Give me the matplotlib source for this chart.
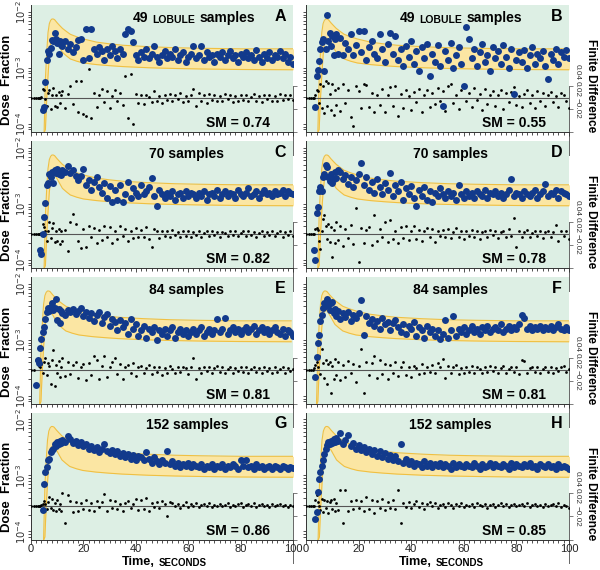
import numpy as np
import matplotlib
matplotlib.use("Agg")
import matplotlib.pyplot as plt
from matplotlib import transforms
from matplotlib.ticker import MultipleLocator, FixedLocator, NullLocator

plt.rcParams['font.family'] = ['Liberation Sans', 'DejaVu Sans']

# sampling times (s): sparse at the start, half-second during the rise, 1 s after
t_fd = np.concatenate([[0, 1], np.arange(2, 12, 0.5), np.arange(12, 101)])
t_dose = t_fd[2:]

letters = ['A', 'B', 'C', 'D', 'E', 'F', 'G', 'H']
n_samples = ['49', '49', '70', '70', '84', '84', '152', '152']
lobule = [True, True, False, False, False, False, False, False]
sm_values = ['0.74', '0.55', '0.82', '0.78', '0.81', '0.81', '0.86', '0.85']
band_onset = [5.0, 4.5, 5.0, 4.5, 3.3, 4.0, 4.8, 4.6]

# model band (dose fraction x 1e-4) vs time after onset
band_t = [0, 0.5, 1, 1.5, 2, 2.5, 3, 3.5, 4, 5, 6, 7, 8.5, 10, 12.5, 15, 20, 25, 30, 40, 50, 60, 75, 96]
band_hi = [0.7, 6.4, 19, 43, 62, 71, 75, 75, 73, 64, 57, 51, 45, 40, 36, 33, 29, 27, 25.5, 24, 23, 22.5, 22, 22]
band_lo = [0.7, 0.8, 2.8, 7.3, 16.6, 27, 32, 34, 33, 28, 23, 19, 16.5, 14.5, 13.2, 12.3, 11.5, 11, 10.6, 10.1, 9.8, 9.6, 9.4, 9.3]

# dose fraction x 1e-4 at t_dose
dose_A = [None, None, None, None, None, 1.8, 2.0, 5.7, 14, 20, 18, 23, 32, 30, 43, 33, 28, 18, 30, 26,
          25, 30, 22, 27, 19, 24, 31, 33, 14, 50, 15, 50, 22, 18, 24, 20, 14, 22, 17, 25,
          20, 15, 22, 18, 40, 50, 46, 29, 17, 14, 19, 16, 22, 15, 18, 25, 16, 13, 17, 20,
          15, 18, 16, 22, 14, 17, 19, 13, 16, 18, 25, 15, 17, 25, 14, 19, 16, 17, 13, 18,
          16, 19, 14, 17, 20, 15, 17, 13, 18, 16, 19, 15, 17, 14, 21, 16, 13, 18, 15, 19,
          14, 17, 16, 20, 15, 18, 13, 16, 12]
dose_B = [None, None, None, 2.0, 7.3, 9.3, 13.5, 22, 29, 33, 9.0, 22, 88, 30, 43, 25, 38, 17, 33, 40,
          18, 35, 17, 28, 22, 40, 17, 26, 46, 19, 46, 14, 24, 30, 18, 15, 40, 22, 13, 27,
          43, 18, 38, 14, 22, 11, 25, 16, 30, 12, 20, 9, 24, 15, 27, 7.3, 18, 13, 26, 11,
          2.1, 20, 14, 28, 10, 17, 24, 12, 4.8, 53, 33, 15, 22, 11, 19, 27, 13, 17, 9, 24,
          15, 20, 12, 26, 16, 10, 22, 3.5, 14, 19, 13, 21, 10, 17, 24, 12, 18, 15, 20, 11,
          6.3, 18, 14, 22, 12, 19, 16, 21, 15]
dose_C = [None, None, None, 1.5, 1.3, 2.9, 5.9, 10.3, 22, 24, 34, 30, 37, 24, 40, 36, 42, 35, 38, 33,
          40, 37, 48, 36, 40, 31, 27, 31, 42, 22, 27, 18, 25, 30, 20, 16, 24, 13, 21, 11,
          18, 12, 22, 11, 15, 25, 13, 19, 16, 14, 22, 15, 17, 20, 29, 14, 9.3, 18, 15, 13,
          16, 14, 17, 12, 15, 16, 13, 17, 14, 16, 15, 13, 16, 14, 17, 12, 15, 16, 14, 18,
          13, 15, 17, 14, 16, 15, 13, 18, 15, 14, 16, 19, 14, 15, 17, 13, 16, 18, 15, 16,
          14, 17, 15, 16, 18, 14, 17, 16, 15]
dose_D = [None, None, 1.5, 1.0, 6.8, 8.7, 17, 20, 17, 30, 34, 50, 45, 30, 26, 34, 24, 28, 38, 29,
          40, 37, 28, 33, 23, 30, 20, 27, 34, 53, 22, 30, 18, 25, 16, 28, 20, 15, 24, 18,
          36, 14, 22, 17, 25, 12, 19, 15, 21, 13, 9.3, 18, 14, 20, 12, 17, 11, 16, 14, 19,
          15, 13, 17, 14, 16, 12, 22, 15, 13, 17, 14, 16, 13, 17, 15, 14, 18, 13, 16, 15,
          17, 14, 16, 13, 15, 18, 28, 14, 16, 15, 13, 17, 15, 14, 16, 18, 13, 15, 17, 23,
          14, 16, 15, 18, 13, 17, 16, 15, 14]
dose_E = [1.6, 4.4, 3.9, 7.1, 10.3, 14, 17, 24, 32, 37, 33, 39, 46, 35, 38, 55, 23, 36, 20, 33,
          30, 28, 34, 31, 36, 29, 33, 37, 27, 32, 25, 30, 22, 28, 31, 20, 26, 29, 18, 24,
          21, 15, 23, 17, 20, 13, 24, 16, 19, 12, 15, 18, 11, 16, 14, 17, 10, 15, 13, 16,
          12, 15, 17, 11, 14, 16, 13, 15, 12, 14, 16, 13, 15, 17, 12, 14, 16, 13, 15, 24,
          14, 16, 25, 13, 15, 17, 14, 16, 13, 15, 17, 14, 16, 18, 13, 15, 17, 14, 16, 13,
          15, 17, 14, 13, 16, 12, 15, 14, 12]
dose_F = [None, None, None, 2.2, 5.0, 8.7, 12.3, 22, 28, 38, 45, 40, 53, 42, 34, 45, 48, 30, 36, 27,
          33, 24, 30, 26, 32, 22, 28, 25, 30, 52, 12.3, 27, 20, 24, 18, 22, 16, 25, 19, 21,
          15, 20, 23, 17, 14, 19, 13, 18, 16, 21, 12, 17, 15, 11, 18, 14, 16, 12, 15, 10.5,
          13, 23, 11, 15, 27, 12, 16, 14, 17, 13, 15, 18, 14, 16, 13, 17, 15, 18, 14, 16,
          17, 15, 19, 14, 16, 18, 15, 17, 16, 19, 28, 25, 16, 18, 15, 17, 16, 18, 15, 17,
          16, 18, 15, 17, 19, 16, 15, 17, 15]
dose_G = [None, None, None, None, None, 2.4, 7.1, 11.5, 14, 19, 20, 26, 29, 30, 37, 34, 40, 36, 42, 38,
          43, 39, 51, 45, 38, 41, 35, 39, 33, 36, 30, 34, 28, 32, 26, 30, 36, 27, 25, 29,
          24, 27, 22, 25, 21, 24, 20, 23, 19, 22, 21, 19, 26, 20, 17, 21, 18, 16, 19, 17,
          27, 16, 18, 15, 17, 14, 16, 15, 17, 14, 16, 15, 14, 16, 13, 15, 14, 16, 13, 15,
          14, 16, 13, 15, 14, 16, 15, 13, 19, 15, 19, 14, 15, 13, 16, 14, 15, 13, 14, 15,
          13, 15, 14, 13, 15, 14, 13, 14, 13.6]
dose_H = [None, None, None, 1.7, 2.2, 5.1, 8.7, 11.5, 14.7, 18.6, 24.5, 30, 35, 40, 37, 42, 38, 44, 40, 46,
          41, 57, 36, 43, 53, 33, 38, 30, 35, 28, 32, 26, 30, 24, 28, 22, 27, 21, 25, 20,
          23, 19, 22, 18, 36, 17, 20, 16, 18, 15, 17, 16, 14, 18, 15, 17, 14, 16, 15, 17,
          14, 16, 15, 13, 17, 14, 16, 15, 14, 16, 15, 14, 17, 15, 13, 16, 14, 15, 17, 14,
          16, 15, 14, 16, 15, 13, 17, 14, 16, 15, 14, 16, 15, 17, 14, 15, 13, 16, 15, 14,
          16, 14, 15, 13, 16, 14, 15, 14, 12.8]

# finite difference x 1e-3 at t_fd
fd_A = [0, 0, 0, 0, 0, 0, 1, 11, 9, -1, -9, 6, 10, -13, 4, 12, -9, 3, -11, 7, -6, 3,
        8, -12, 5, 14, -7, 20, -17, 20, -19, -21, 34, -24, 6, -10, 3, 11, -5, 8, -12, 2,
        9, -4, 6, -8, 26, -23, 28, -30, 5, -6, 3, -7, 4, 1, -5, 8, -3, 2, -6, 4,
        -2, 5, -4, 3, -1, 6, -5, 2, -3, 4, 11, -9, 6, -4, 3, -6, 5, -2, 4, -3,
        2, -4, 5, -1, 3, -5, 2, -3, 4, -2, 3, -4, 1, 5, -3, 2, -5, 3, -1, 4,
        -3, 2, -4, 5, -2, 3, -1, 4, -2]
fd_B = [0, 0, 0, 0, 0, 3, 10, 8, -6, 16, -12, 14, -18, 20, -9, 18, 5, -14, 16, -20, 9, -8,
        12, -15, 17, -6, 10, -22, -33, 14, 8, -12, 16, 15, -10, 6, -16, 4, -8, 11, -17, 3,
        13, -9, 14, -21, 5, -12, 9, 2, -14, 7, -5, 11, -16, 4, 10, -10, 6, -7, 12, -3,
        8, -15, 14, 16, -6, 3, -13, 9, 15, -4, 6, -11, 12, -2, 5, -14, 11, -7, 3, 8,
        -9, 4, 10, -13, 6, -5, 7, 13, -8, 2, -11, 5, 9, -6, 3, -12, 8, -3, 6, -9,
        4, 7, -5, 2, -10, 6, 3, -4, -12]
fd_C = [0, 0, 0, 0, 0, 0, 1, 12, 8, 4, -8, 3, 14, -5, 7, 13, -9, 4, -8, 6, -12, 3,
        -8, 5, -20, 14, 24, 12, -8, -16, 6, -15, 9, -4, 7, -10, 5, -7, 10, -3, 8, -11,
        4, -6, 9, -2, 6, -8, 3, -5, 7, -3, 5, -4, 8, -6, -15, 6, 3, -5, 4, -2,
        3, -3, 5, -1, 2, -4, 4, -2, 3, -3, 2, -1, 4, -3, 1, 3, -2, 4, -1, 2,
        -3, 2, 1, -2, 3, -1, 4, -2, 1, 3, -2, 4, -1, 2, -3, 1, 3, -2, 2, -1,
        3, -2, 1, 4, -3, 2, -1, 3, -2]
fd_D = [0, 0, 0, 0, 0, 6, 7, 5, -8, -18, 4, 18, 22, 10, -6, 12, -9, 8, -27, 5, -11, 14,
        -7, 9, -14, 6, -5, 11, -12, 31, -33, 7, -10, 5, 8, -13, 22, -8, 6, -4, 14, -9,
        16, -6, 4, -11, 8, -5, 10, -7, 3, 9, -6, 5, -8, 3, 7, -4, 6, -9, 4, -2,
        5, -3, 6, -5, 2, 7, -4, 3, -6, 4, -2, 5, -3, 4, -6, 2, 3, -4, 5, -1,
        3, -5, 2, 4, -3, 6, -2, 19, -15, 3, -4, 2, 5, -3, 1, 4, -2, 3, -5, 2,
        4, -3, 2, 11, -8, 3, -2, 4, -6]
fd_E = [0, 0, 12, 9, 5, 3, 7, -4, 10, 14, -6, 8, 5, -16, 12, 23, -19, 6, -4, 11, -8, 4,
        14, -7, 9, -5, 6, 10, -9, 4, 7, -12, 8, -6, 16, 12, -10, 5, 17, -8, 3, 9,
        14, -5, 7, -11, 4, 6, -3, 8, -7, 3, 5, -4, 2, 6, -5, 3, -2, 4, -6, 2,
        -3, 5, 1, -4, 3, -2, 4, 2, -5, 3, 14, -11, 2, -3, 4, -1, 3, -4, 2, 5,
        -2, 3, -4, 1, 4, -3, 2, -1, 3, -2, 4, -3, 1, 3, -2, 2, -4, 3, -1, 2,
        -3, 4, -2, 1, 3, -4, 2, -1, 1]
fd_F = [0, 0, 0, 0, 2, 6, 9, 4, 16, -5, 25, 8, -9, 12, -16, 7, 10, -27, 5, -10, 13, -6,
        9, -12, 6, -8, 11, -4, 7, -14, 5, 25, -27, 10, -6, 8, 16, -9, 12, -5, 7, -11,
        6, -4, 9, -7, 3, 10, -6, 4, -8, 5, 2, -5, 7, -3, 4, -2, 6, -4, 8, 3,
        13, -9, 5, -3, 4, 6, -5, 2, -4, 3, -2, 5, -3, 4, 1, -4, 3, -2, 5, -1,
        3, -4, 2, 5, -3, 1, 4, -2, 3, -5, 12, 11, -3, 2, 4, -2, 3, -4, 1, 3,
        -2, 4, -3, 2, -1, 3, 5, -2, 1]
fd_G = [0, 0, 0, 0, 0, 0, 1, 2, 5, 2, -4, 4, 10, -3, 8, -5, 3, -6, 6, -4, 2, -7,
        15, -20, 12, 5, -8, 4, -6, 3, -4, 6, -5, 3, -7, 5, -2, 4, 14, -6, 7, -3,
        5, -4, 2, -6, 3, 5, -3, 2, 8, -5, 6, -4, 9, -7, 3, -2, 4, -3, 5, 2,
        -12, 4, 3, -1, 2, -3, 1, 4, -2, 2, -1, 3, -2, 1, 2, -1, 3, -2, 1, -1,
        2, -1, 1, 3, -2, 1, -1, 2, 3, -2, 1, 2, -1, 3, -2, 1, 2, -1, 1, -2,
        2, -1, 1, 2, -1, 1, -2, 1, 0]
fd_H = [0, 0, 0, 0, 0, 6, 12, 4, 0, -5, 8, -8, 7, -3, 5, -9, 4, 6, -4, 8, -6, 3,
        -5, 18, -21, 18, -7, 5, -4, 7, -3, 5, -6, 10, -4, 7, -9, 5, -3, 8, -5, 4,
        -3, 6, -4, 18, -20, 3, -2, 4, -3, 2, 5, -2, 3, -4, 2, 4, -1, 3, -3, 1,
        2, -2, 3, 1, -3, 2, -1, 3, -2, 1, -1, 2, -2, 3, 1, -1, 2, -3, 1, 2,
        -2, 1, 3, -1, 2, -2, 1, 2, -1, 1, 2, -1, 3, -2, 1, 2, -1, 1, -2, 2,
        -1, 1, 2, -1, 3, -2, 1, -1, -3]

doses = [dose_A, dose_B, dose_C, dose_D, dose_E, dose_F, dose_G, dose_H]
fds = [fd_A, fd_B, fd_C, fd_D, fd_E, fd_F, fd_G, fd_H]

fd_ticks = [-0.02, 0, 0.02, 0.04]
fd_labels = ['\u22120.02', '0.02', '0.04']

# finite-difference axis drawn on the log axis: 0 sits at 10^ZERO, one unit spans DEC decades
ZERO = -3.536
DEC = 15.18


def fd_to_dose(v):
    return 10 ** (ZERO + np.asarray(v, dtype=float) * DEC)


def dose_to_fd(y):
    y = np.clip(np.asarray(y, dtype=float), 1e-30, None)
    return (np.log10(y) - ZERO) / DEC


BG = '#ddefe4'
BLUE = '#123a8c'
BAND_FILL = '#fbe6a3'
BAND_EDGE = '#efc043'
AXC = '#333333'

fig = plt.figure(figsize=(6, 5.7), dpi=100)
lefts = [31 / 600, 306 / 600]
widths = [262 / 600, 263 / 600]
row_bottom = [132, 268, 404, 539.5]
h = 127 / 570
title_x = [0.595, 0.55]
lob_x = [0.389, 0.357]
time_x = [0.347, 0.352]

for i in range(8):
    r, c = divmod(i, 2)
    ax = fig.add_axes([lefts[c], (570 - row_bottom[r]) / 570, widths[c], h])
    ax.set_facecolor(BG)
    ax.set_yscale('log')
    ax.set_xlim(0, 100)
    ax.set_ylim(10 ** -4.143, 10 ** -1.875)

    bt = np.array(band_t) + band_onset[i]
    ax.fill_between(bt, np.array(band_lo) * 1e-4, np.array(band_hi) * 1e-4,
                    color=BAND_FILL, lw=0, zorder=1)
    ax.plot(bt, np.array(band_hi) * 1e-4, color=BAND_EDGE, lw=0.8, zorder=1.5)
    ax.plot(bt, np.array(band_lo) * 1e-4, color=BAND_EDGE, lw=0.8, zorder=1.5)

    ax.axhline(fd_to_dose(0), color='#555555', lw=0.8, zorder=2)
    fd = np.array(fds[i], dtype=float) / 1000
    ax.scatter(t_fd, fd_to_dose(fd), s=4, c='black', lw=0, zorder=3)
    d = np.array(doses[i], dtype=float) * 1e-4
    ax.scatter(t_dose, d, s=25, c=BLUE, lw=0, zorder=4)

    for s in ['top', 'right']:
        ax.spines[s].set_visible(False)
    for s in ['left', 'bottom']:
        ax.spines[s].set_linewidth(0.7)
        ax.spines[s].set_color(AXC)

    ax.xaxis.set_major_locator(MultipleLocator(20))
    ax.xaxis.set_minor_locator(MultipleLocator(2))
    ax.yaxis.set_major_locator(FixedLocator([1e-4, 1e-3, 1e-2]))
    ax.tick_params(which='both', direction='out', color=AXC, width=0.6)
    ax.tick_params(which='major', length=3)
    ax.tick_params(which='minor', length=2)
    ax.tick_params(axis='y', which='major', length=2.2)
    ax.tick_params(axis='x', labelsize=8, labelcolor='#222222', pad=0.3)
    ax.tick_params(axis='y', labelsize=7.2, labelcolor='#333333', pad=0.3)
    if r < 3:
        ax.tick_params(axis='x', labelbottom=False)
    if c == 0:
        ax.set_yticklabels([r'$10^{-4}$', r'$10^{-3}$', r'$10^{-2}$'], rotation=90, va='center')
    else:
        ax.tick_params(axis='y', labelleft=False)

    sec = ax.secondary_yaxis('right', functions=(dose_to_fd, fd_to_dose))
    sec.set_yticks(fd_ticks)
    sec.yaxis.set_minor_locator(NullLocator())
    sec.spines['right'].set_bounds(-0.02, 0.04)
    sec.spines['right'].set_linewidth(0.7)
    sec.spines['right'].set_color('#666666')
    sec.tick_params(direction='out', length=3, width=0.6, color='#666666', labelright=False)

    if c == 1:
        # rotated tick labels laid end to end along the short right spine
        trans = transforms.blended_transform_factory(ax.transAxes, ax.transData)
        ax.text(1.017, fd_to_dose(0.0405), fd_labels[2], transform=trans, rotation=-90,
                ha='left', va='top', fontsize=5.9, color='#333333')
        ax.text(1.017, fd_to_dose(0.0202), fd_labels[1], transform=trans, rotation=-90,
                ha='left', va='top', fontsize=5.9, color='#333333')
        ax.text(1.017, fd_to_dose(-0.0247), fd_labels[0], transform=trans, rotation=-90,
                ha='left', va='bottom', fontsize=5.9, color='#333333')
        ax.text(1.085, 0.365, 'Finite Difference', rotation=-90, ha='center', va='center',
                fontsize=8.6, fontweight='bold', transform=ax.transAxes)
    else:
        ax.text(-0.090, 0.41, 'Dose  Fraction', rotation=90, ha='center', va='center',
                fontsize=9.4, fontweight='bold', transform=ax.transAxes)

    # panel title
    if lobule[i]:
        t1 = ax.text(lob_x[c], 0.868, n_samples[i], transform=ax.transAxes, fontsize=10,
                     fontweight='bold', ha='left', va='baseline', zorder=6)
        t2 = ax.annotate('LOBULE', xy=(1, 0), xycoords=t1, xytext=(3, 0),
                         textcoords='offset points', fontsize=7.5, fontweight='bold',
                         ha='left', va='bottom', zorder=6)
        ax.annotate('samples', xy=(1, 0), xycoords=t2, xytext=(3, 0),
                    textcoords='offset points', fontsize=10, fontweight='bold',
                    ha='left', va='bottom', zorder=6)
    else:
        ax.text(title_x[c], 0.9, n_samples[i] + ' samples', transform=ax.transAxes,
                fontsize=10, fontweight='bold', ha='center', va='center', zorder=6)
    ax.text(0.952, 0.91, letters[i], transform=ax.transAxes, fontsize=11.5,
            fontweight='bold', ha='center', va='center', zorder=6)
    ax.text(0.79, 0.07, 'SM = ' + sm_values[i], transform=ax.transAxes, fontsize=10,
            fontweight='bold', ha='center', va='center', zorder=6)

    if r == 3:
        tt = ax.annotate('Time,', xy=(time_x[c], 0), xycoords='axes fraction', xytext=(0, -11.7),
                         textcoords='offset points', fontsize=9.2, fontweight='bold',
                         ha='left', va='top')
        ax.annotate('SECONDS', xy=(1, 0), xycoords=tt, xytext=(3, 0),
                    textcoords='offset points', fontsize=7, fontweight='bold',
                    ha='left', va='bottom')

fig.savefig('out.png', dpi=100, facecolor='white')
